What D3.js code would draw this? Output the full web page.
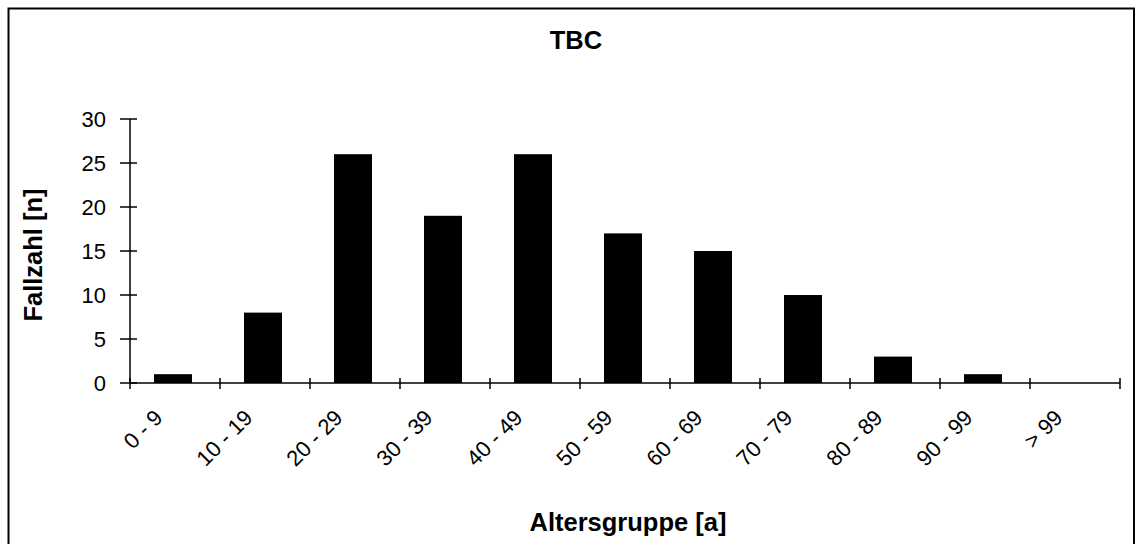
<!DOCTYPE html>
<html lang="de">
<head>
<meta charset="utf-8">
<title>TBC</title>
<script src="https://d3js.org/d3.v7.min.js"></script>
<style>
  body { margin: 0; background: #fff; }
  text { font-family: "Liberation Sans", Arial, sans-serif; fill: #000; }
</style>
</head>
<body>
<div id="chart"></div>
<script>
  // data
  var categories = ["0 - 9", "10 - 19", "20 - 29", "30 - 39", "40 - 49", "50 - 59",
                    "60 - 69", "70 - 79", "80 - 89", "90 - 99", "> 99"];
  var cases = [1, 8, 26, 19, 26, 17, 15, 10, 3, 1, 0];
  var yTicks = [0, 5, 10, 15, 20, 25, 30];

  var W = 1140, H = 544;
  var margin = { top: 119, left: 130, right: 20, bottom: 161 };
  var width = 990, height = 264;

  var svg = d3.select("#chart").append("svg")
    .attr("width", W).attr("height", H);

  // frame
  svg.append("rect")
    .attr("x", 8.5).attr("y", 8.5)
    .attr("width", 1125.5).attr("height", 600)
    .attr("fill", "none").attr("stroke", "#000").attr("stroke-width", 2);

  var g = svg.append("g")
    .attr("transform", "translate(" + margin.left + "," + margin.top + ")");

  var x = d3.scaleBand().domain(categories).range([0, width]).padding(0);
  var y = d3.scaleLinear().domain([0, 30]).range([height, 0]);

  // bars
  g.selectAll("rect.bar")
    .data(cases)
    .enter().append("rect")
    .attr("class", "bar")
    .attr("x", function (d, i) { return x(categories[i]) + 24; })
    .attr("width", 38)
    .attr("y", function (d) { return y(d); })
    .attr("height", function (d) { return y(0) - y(d); })
    .attr("fill", "#000");

  // y axis
  g.append("line")
    .attr("x1", 0).attr("x2", 0).attr("y1", y(0)).attr("y2", y(30))
    .attr("stroke", "#000").attr("stroke-width", 1.5);
  g.selectAll("line.yt").data(yTicks).enter().append("line")
    .attr("x1", -10).attr("x2", 7)
    .attr("y1", function (d) { return y(d); })
    .attr("y2", function (d) { return y(d); })
    .attr("stroke", "#000").attr("stroke-width", 1.5);
  g.selectAll("text.yl").data(yTicks).enter().append("text")
    .attr("x", -24)
    .attr("y", function (d) { return y(d); })
    .attr("dy", "0.36em")
    .attr("text-anchor", "end")
    .style("font-size", "22px")
    .text(function (d) { return d; });

  // x axis
  g.append("line")
    .attr("x1", 0).attr("x2", width).attr("y1", y(0)).attr("y2", y(0))
    .attr("stroke", "#000").attr("stroke-width", 1.5);
  var xt = categories.map(function (c) { return x(c); }).concat([width]);
  g.selectAll("line.xt").data(xt).enter().append("line")
    .attr("x1", function (d) { return d; })
    .attr("x2", function (d) { return d; })
    .attr("y1", y(0) - 5).attr("y2", y(0) + 6)
    .attr("stroke", "#000").attr("stroke-width", 1.5);
  g.selectAll("text.xl").data(categories).enter().append("text")
    .attr("text-anchor", "end")
    .attr("transform", function (d) {
      return "translate(" + (x(d) + x.bandwidth() / 2 - 11) + "," + (y(0) + 36) + ") rotate(-45)";
    })
    .style("font-size", "22px")
    .text(function (d) { return d; });

  // titles
  svg.append("text")
    .attr("x", 576).attr("y", 49)
    .attr("text-anchor", "middle")
    .style("font-size", "25.5px").style("font-weight", "bold")
    .text("TBC");

  svg.append("text")
    .attr("transform", "translate(42,255) rotate(-90)")
    .attr("text-anchor", "middle")
    .style("font-size", "25.5px").style("font-weight", "bold")
    .text("Fallzahl [n]");

  svg.append("text")
    .attr("x", 628).attr("y", 531)
    .attr("text-anchor", "middle")
    .style("font-size", "25.5px").style("font-weight", "bold")
    .text("Altersgruppe [a]");
</script>
</body>
</html>
